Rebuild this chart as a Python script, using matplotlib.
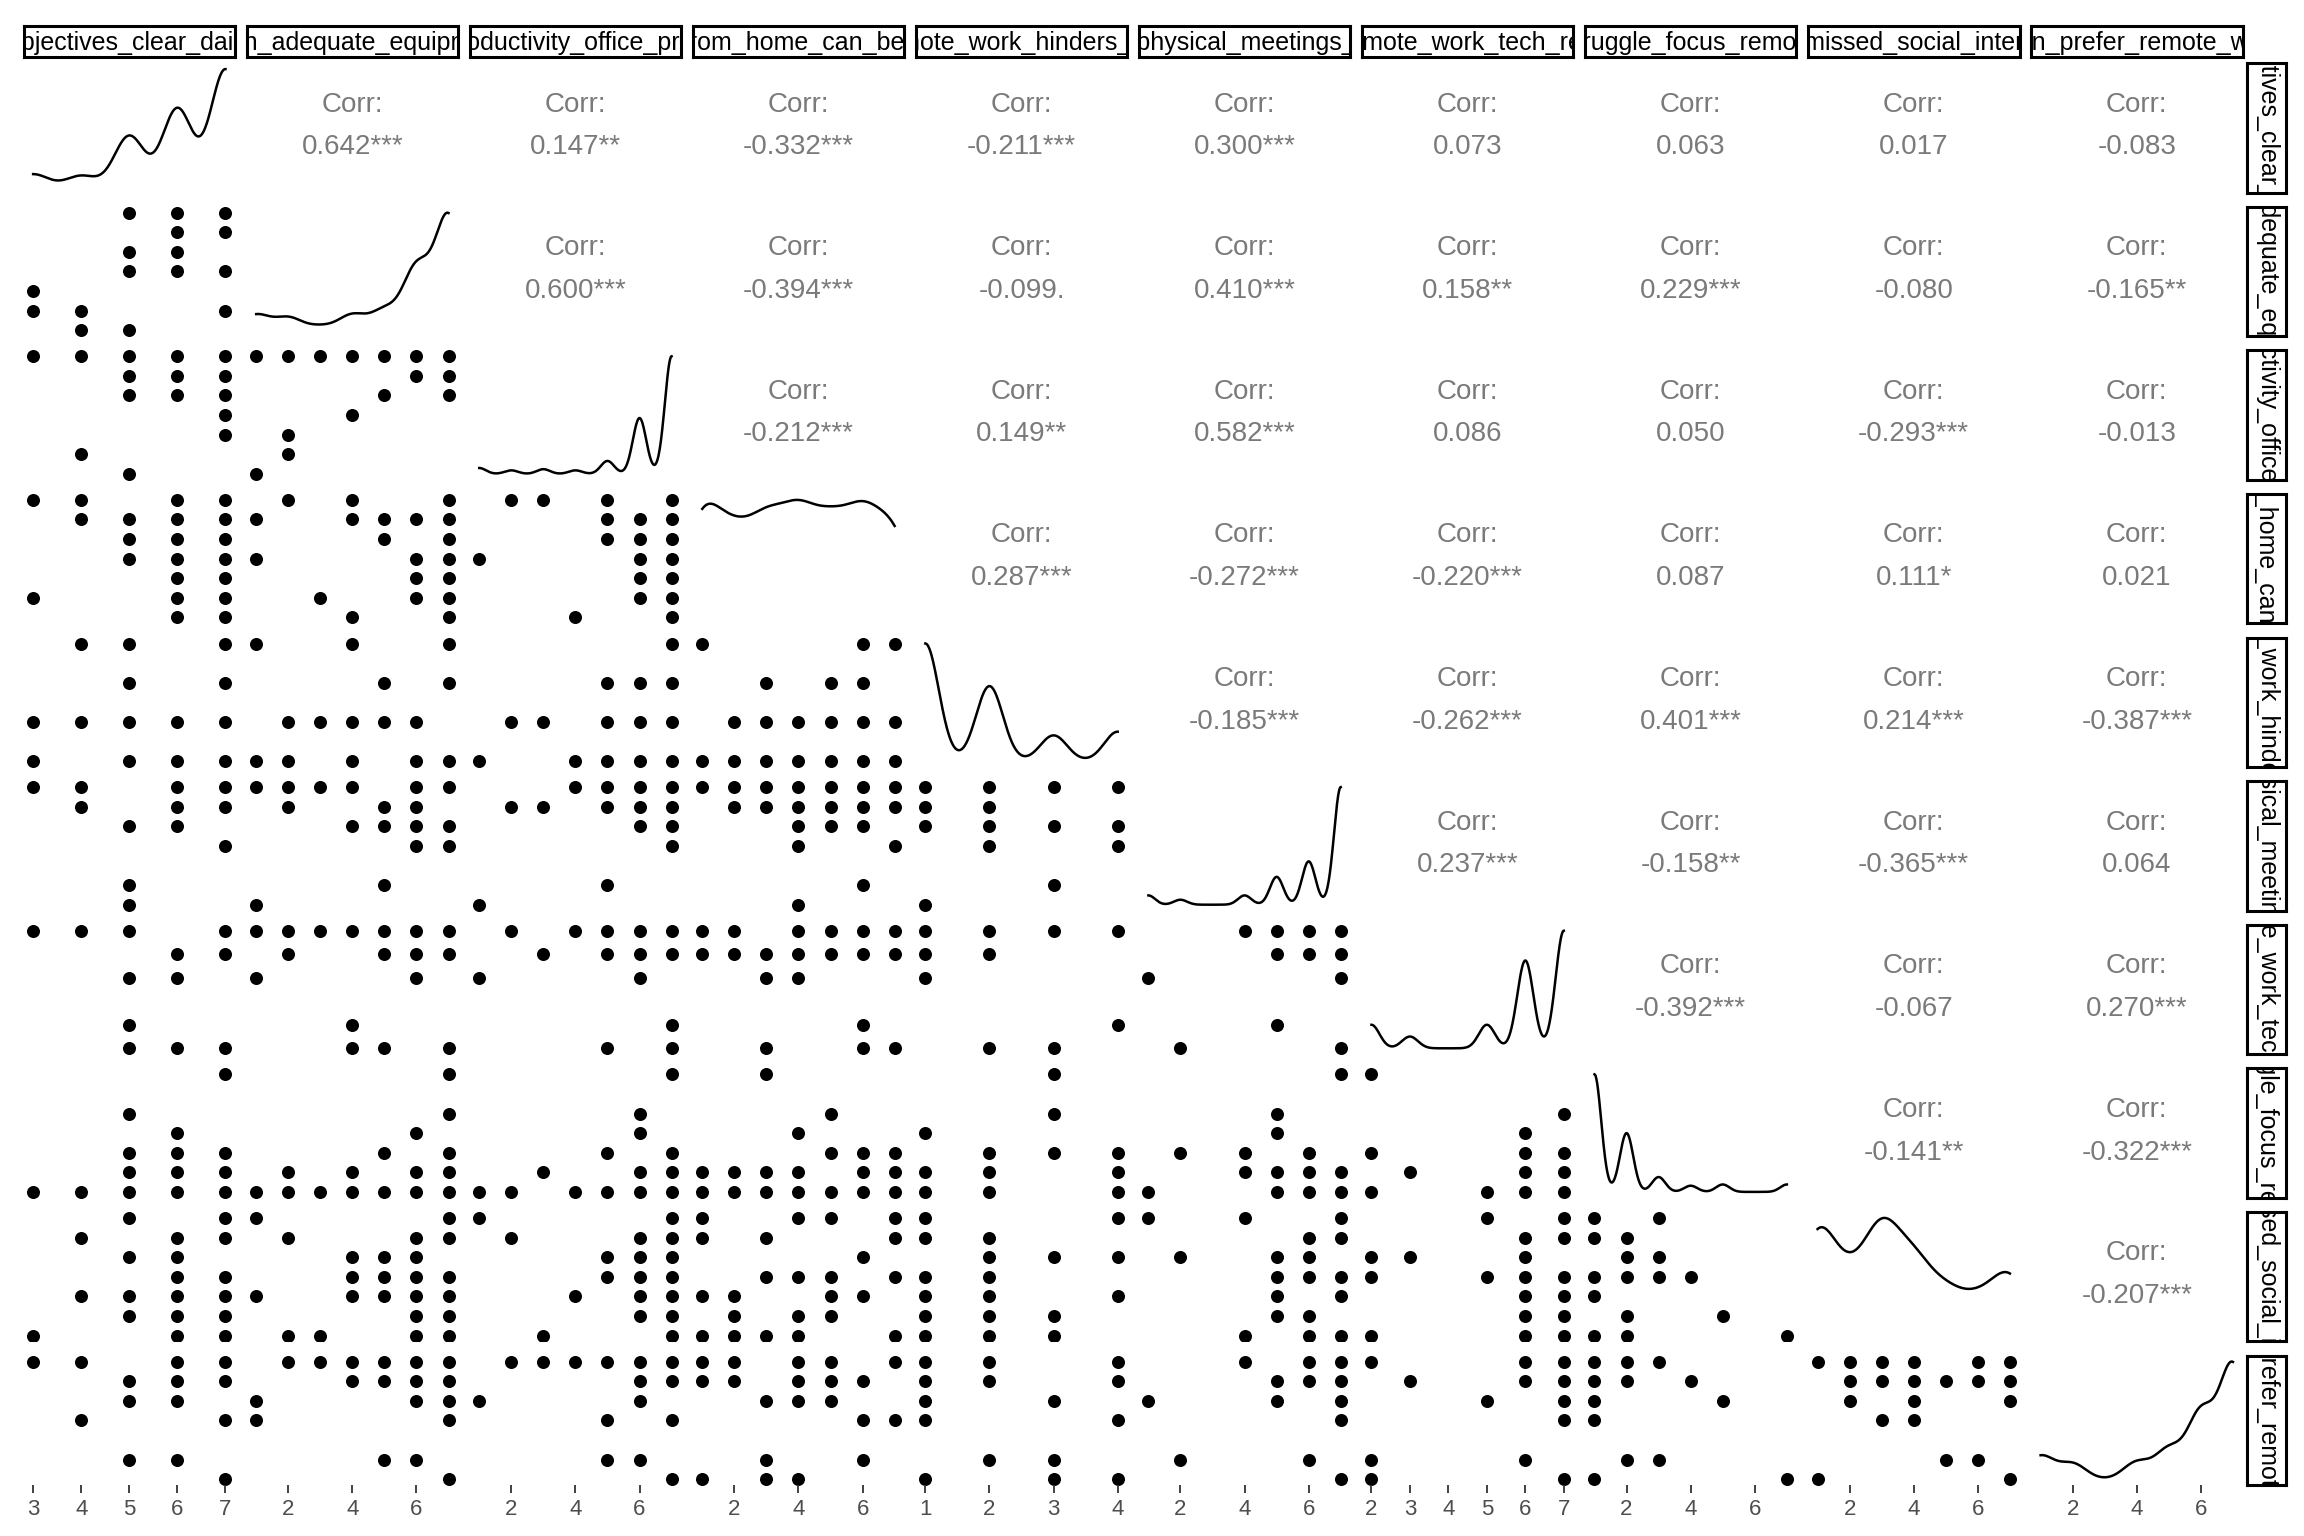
import numpy as np
import matplotlib.pyplot as plt

plt.rcParams['font.family'] = ['Liberation Sans', 'DejaVu Sans']

# ---- variables -------------------------------------------------------------
VARS = [
    "objectives_clear_daily",
    "given_adequate_equipment",
    "productivity_office_prov",
    "work_from_home_can_be_better",
    "remote_work_hinders_job",
    "prefer_physical_meetings_always",
    "remote_work_tech_req",
    "struggle_focus_remote",
    "have_missed_social_interaction",
    "often_prefer_remote_work",
]
VAR_MIN = [3, 1, 1, 1, 1, 1, 2, 1, 1, 1]
VAR_MAX = [7, 7, 7, 7, 4, 7, 7, 7, 7, 7]
TICKS = [[3, 4, 5, 6, 7], [2, 4, 6], [2, 4, 6], [2, 4, 6], [1, 2, 3, 4],
         [2, 4, 6], [2, 3, 4, 5, 6, 7], [2, 4, 6], [2, 4, 6], [2, 4, 6]]

# answer counts per level (min..max)
COUNTS = [
    [16, 14, 65, 100, 150],
    [22, 18, 6, 22, 28, 88, 162],
    [10, 6, 8, 6, 22, 95, 200],
    [58, 40, 48, 52, 46, 52, 45],
    [160, 102, 35, 40],
    [15, 8, 0, 15, 45, 70, 190],
    [30, 15, 0, 30, 112, 150],
    [190, 95, 24, 10, 12, 0, 12],
    [80, 36, 78, 52, 30, 24, 46],
    [30, 20, 0, 22, 38, 85, 148],
]

# upper triangle: correlation labels, row by row
CORR = [
    ["0.642***", "0.147**", "-0.332***", "-0.211***", "0.300***", "0.073", "0.063", "0.017", "-0.083"],
    ["0.600***", "-0.394***", "-0.099.", "0.410***", "0.158**", "0.229***", "-0.080", "-0.165**"],
    ["-0.212***", "0.149**", "0.582***", "0.086", "0.050", "-0.293***", "-0.013"],
    ["0.287***", "-0.272***", "-0.220***", "0.087", "0.111*", "0.021"],
    ["-0.185***", "-0.262***", "0.401***", "0.214***", "-0.387***"],
    ["0.237***", "-0.158**", "-0.365***", "0.064"],
    ["-0.392***", "-0.067", "0.270***"],
    ["-0.141**", "-0.322***"],
    ["-0.207***"],
]

# lower triangle: occupied (x, y) answer pairs, "y:xxx" per panel
ROW2 = ["7:567 6:67 5:56 4:567 3:3 2:347 1:45"]
ROW3 = ["7:34567 6:567 5:567 4:7 3:7 2:4 1:5",
        "7:1234567 6:67 5:57 4:4 3:2 2:2 1:1"]
ROW4 = ["7:3467 6:4567 5:567 4:567 3:67 2:367 1:67",
        "7:247 6:14567 5:57 4:167 3:67 2:367 1:47",
        "7:2357 6:567 5:567 4:167 3:67 2:67 1:47"]
ROW5 = ["4:457 3:57 2:34567 1:3567",
        "4:147 3:57 2:23456 1:12467",
        "4:7 3:567 2:23567 1:14567",
        "4:167 3:356 2:234567 1:1234567"]
ROW6 = ["7:3467 6:467 5:56 4:7 2:5 1:5",
        "7:123467 6:256 5:4567 4:67 2:5 1:1",
        "7:4567 6:23567 5:67 4:7 2:5 1:1",
        "7:1234567 6:234567 5:456 4:47 2:6 1:4",
        "7:1234 6:12 5:1234 4:24 2:3 1:1"]
ROW7 = ["7:3457 6:67 5:56 3:5 2:567",
        "7:1234567 6:2567 5:16 3:4 2:457",
        "7:24567 6:3567 5:16 3:7 2:57",
        "7:124567 6:1234567 5:34 3:6 2:367",
        "7:1234 6:12 5:1 3:4 2:23",
        "7:4567 6:567 5:17 3:5 2:27"]
ROW8 = ["7:7 5:5 4:6 3:567 2:567 1:34567",
        "7:7 5:7 4:6 3:57 2:2467 1:1234567",
        "7:7 5:6 4:6 3:57 2:367 1:124567",
        "7:3 5:5 4:4 3:567 2:123467 1:1234567",
        "7:3 5:3 4:1 3:234 2:124 1:124",
        "7:7 5:5 4:5 3:246 2:4567 1:1567",
        "7:2 5:7 4:6 3:267 2:367 1:2567"]
ROW9 = ["7:57 6:467 5:56 4:67 3:4567 2:567 1:367",
        "7:17 6:267 5:456 4:4567 3:14567 2:67 1:2367",
        "7:17 6:267 5:567 4:567 3:467 2:67 1:37",
        "7:1457 6:137 5:6 4:3457 3:1256 2:245 1:12347",
        "7:14 6:12 5:234 4:12 3:124 2:123 1:123",
        "7:147 6:67 5:256 4:567 3:57 2:56 1:467",
        "7:57 6:67 5:236 4:2567 3:67 2:67 1:267",
        "7:13 6:12 5:23 4:1234 3:1 2:25 1:127"]
ROW10 = ["7:3467 6:567 5:56 4:47 2:56 1:7",
         "7:234567 6:4567 5:167 4:17 2:56 1:7",
         "7:234567 6:67 5:16 4:57 2:56 1:7",
         "7:12457 6:12456 5:345 4:67 2:36 1:134",
         "7:124 6:124 5:13 4:14 2:23 1:134",
         "7:467 6:567 5:157 4:7 2:26 1:7",
         "7:267 6:367 5:57 4:7 2:26 1:27",
         "7:123 6:124 5:15 4:1 2:23 1:17",
         "7:123467 6:234567 5:247 4:34 2:56 1:17"]
LOWER = [[], ROW2, ROW3, ROW4, ROW5, ROW6, ROW7, ROW8, ROW9, ROW10]


def parse_pairs(s):
    xs, ys = [], []
    for tok in s.split():
        y, xx = tok.split(":")
        for c in xx:
            xs.append(int(c))
            ys.append(int(y))
    return xs, ys


def nrd0(x):
    sd = x.std(ddof=1)
    iqr = np.subtract(*np.percentile(x, [75, 25]))
    lo = min(sd, iqr / 1.34) if iqr > 0 else sd
    return 0.9 * lo * len(x) ** -0.2


def density(k):
    levels = np.arange(VAR_MIN[k], VAR_MAX[k] + 1)
    sample = np.repeat(levels, COUNTS[k]).astype(float)
    bw = nrd0(sample)
    grid = np.linspace(VAR_MIN[k], VAR_MAX[k], 512)
    d = np.exp(-(grid[:, None] - sample[None, :]) ** 2 / (2 * bw ** 2)).sum(1)
    return grid, d / (len(sample) * bw * np.sqrt(2 * np.pi))


# ---- layout (reference pixel units, 1568 x 1045) ---------------------------
W, H = 1568.0, 1045.0
X0, XP, PW = 16.0, 151.8, 144.0
Y0, YP, PH = 43.0, 97.7, 88.0


def box(x, y, w, h):
    return [x / W, 1 - (y + h) / H, w / W, h / H]


def xlim(k):
    r = VAR_MAX[k] - VAR_MIN[k]
    return VAR_MIN[k] - 0.05 * r, VAR_MAX[k] + 0.05 * r


fig = plt.figure(figsize=(23.04, 15.36), dpi=100)
n = len(VARS)

for i in range(n):
    for j in range(n):
        ax = fig.add_axes(box(X0 + j * XP, Y0 + i * YP, PW, PH))
        for s in ax.spines.values():
            s.set_visible(False)
        ax.set_yticks([])
        ax.set_xlim(*xlim(j))
        if i == j:
            g, d = density(j)
            ax.plot(g, d, color="black", lw=1.8)
            ax.set_ylim(-0.05 * d.max(), 1.05 * d.max())
        elif i < j:
            ax.set_ylim(0, 1)
            ax.text(0.5, 0.68, "Corr:", transform=ax.transAxes, ha="center",
                    va="center", fontsize=20, color="#7a7a7a")
            ax.text(0.5, 0.35, CORR[i][j - i - 1], transform=ax.transAxes,
                    ha="center", va="center", fontsize=20, color="#7a7a7a")
        else:
            xs, ys = parse_pairs(LOWER[i][j])
            ax.scatter(xs, ys, s=88, color="black", linewidths=0)
            r = VAR_MAX[i] - VAR_MIN[i]
            ax.set_ylim(VAR_MIN[i] - 0.05 * r, VAR_MAX[i] + 0.05 * r)
        if i == n - 1:
            ax.set_xticks(TICKS[j])
            ax.tick_params(axis="x", length=6, width=1.3, color="#333333",
                           labelcolor="#4d4d4d", labelsize=16, pad=4)
        else:
            ax.set_xticks([])

# column strips (top)
for j in range(n):
    sa = fig.add_axes(box(X0 + j * XP, 17.5, PW, 21))
    sa.set_xticks([])
    sa.set_yticks([])
    for s in sa.spines.values():
        s.set_linewidth(2.2)
    sa.text(0.5, 0.45, VARS[j], transform=sa.transAxes, ha="center",
            va="center", fontsize=18, clip_on=True)

# row strips (right)
for i in range(n):
    sa = fig.add_axes(box(1529, Y0 + i * YP, 27, PH))
    sa.set_xticks([])
    sa.set_yticks([])
    for s in sa.spines.values():
        s.set_linewidth(2.2)
    sa.text(0.5, 0.5, VARS[i], transform=sa.transAxes, ha="center",
            va="center", rotation=-90, fontsize=18, clip_on=True)

fig.savefig("out.png", dpi=100, facecolor="white")
